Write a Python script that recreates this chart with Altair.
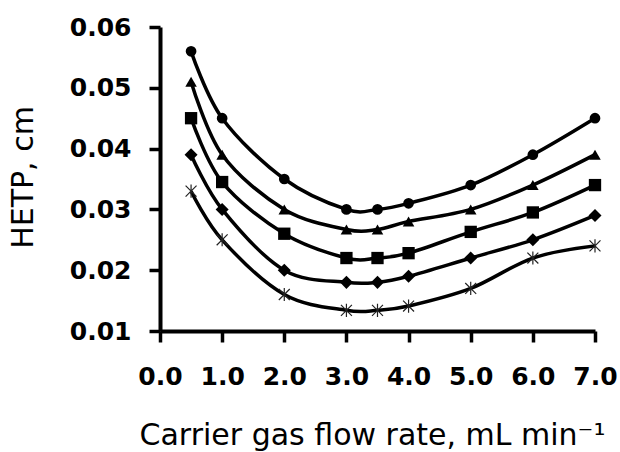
import altair as alt
import pandas as pd

flow = [0.5, 1.0, 2.0, 3.0, 3.5, 4.0, 5.0, 6.0, 7.0]
s_circle = [0.056, 0.045, 0.035, 0.030, 0.030, 0.031, 0.034, 0.039, 0.045]
s_triangle = [0.051, 0.039, 0.030, 0.0267, 0.0267, 0.028, 0.030, 0.034, 0.039]
s_square = [0.045, 0.0345, 0.026, 0.022, 0.022, 0.0228, 0.0263, 0.0295, 0.034]
s_diamond = [0.039, 0.030, 0.020, 0.018, 0.018, 0.019, 0.022, 0.025, 0.029]
s_star = [0.033, 0.025, 0.016, 0.0134, 0.0134, 0.0141, 0.017, 0.022, 0.024]

y_ticks = [0.01, 0.02, 0.03, 0.04, 0.05, 0.06]
x_ticks = [0, 1, 2, 3, 4, 5, 6, 7]

series = {
    "circle": s_circle,
    "triangle": s_triangle,
    "square": s_square,
    "diamond": s_diamond,
    "star": s_star,
}
rows = []
for name, vals in series.items():
    for xv, yv in zip(flow, vals):
        rows.append({"series": name, "flow": xv, "hetp": yv})
df = pd.DataFrame(rows)

FONT = "DejaVu Sans"

x_enc = alt.X(
    "flow:Q",
    scale=alt.Scale(domain=[0, 7], nice=False, zero=False),
    axis=alt.Axis(
        values=x_ticks, format=".1f", title="Carrier gas flow rate, mL min\u207b\u00b9",
        titleX=212, titleY=113, titleAlign="center", titleBaseline="alphabetic",
        titleFontSize=30,
        labelPadding=22, labelOverlap=False, labelFlush=False,
    ),
)
y_enc = alt.Y(
    "hetp:Q",
    scale=alt.Scale(domain=[0.01, 0.06], nice=False, zero=False),
    axis=alt.Axis(
        values=y_ticks, format=".2f", title="HETP, cm",
        titleX=-137, titleY=150, titleAlign="center", titleBaseline="middle",
        titleAngle=270, titleFontSize=30, labelPadding=18,
        labelOverlap=False,
    ),
)

base = alt.Chart(df).encode(x=x_enc, y=y_enc)

lines = base.mark_line(
    interpolate="cardinal", color="black", strokeWidth=3.5
).encode(detail="series:N")

filled = base.transform_filter(
    alt.FieldOneOfPredicate(field="series", oneOf=["circle", "triangle", "square", "diamond"])
).mark_point(filled=True, opacity=1, color="black").encode(
    shape=alt.Shape(
        "series:N",
        scale=alt.Scale(
            domain=["circle", "triangle", "square", "diamond"],
            range=["circle", "triangle-up", "square", "diamond"],
        ),
        legend=None,
    ),
    size=alt.Size(
        "series:N",
        scale=alt.Scale(
            domain=["circle", "triangle", "square", "diamond"],
            range=[115, 170, 170, 160],
        ),
        legend=None,
    ),
)

stars = base.transform_filter(
    alt.FieldEqualPredicate(field="series", equal="star")
).mark_point(
    shape="M-1,-1L1,1M-1,1L1,-1M0,-1.2L0,1.2",
    filled=False, size=120, color="#222222", strokeWidth=1.2, opacity=1,
)

chart = (
    alt.layer(lines, filled, stars)
    .properties(
        width=435, height=304,
        background="white",
        autosize=alt.AutoSizeParams(type="none"),
        padding={"left": 160, "top": 27, "right": 25, "bottom": 121},
    )
    .configure_view(stroke=None)
    .configure_axis(
        grid=False,
        domainColor="black", domainWidth=4,
        tickColor="black", tickWidth=3.5, tickSize=11,
        labelFont=FONT, labelFontSize=25, labelFontWeight="bold", labelColor="black",
        titleFont=FONT, titleFontWeight="normal", titleColor="black",
    )
)

chart.save("out.html", embed_options={"renderer": "svg", "actions": False})
